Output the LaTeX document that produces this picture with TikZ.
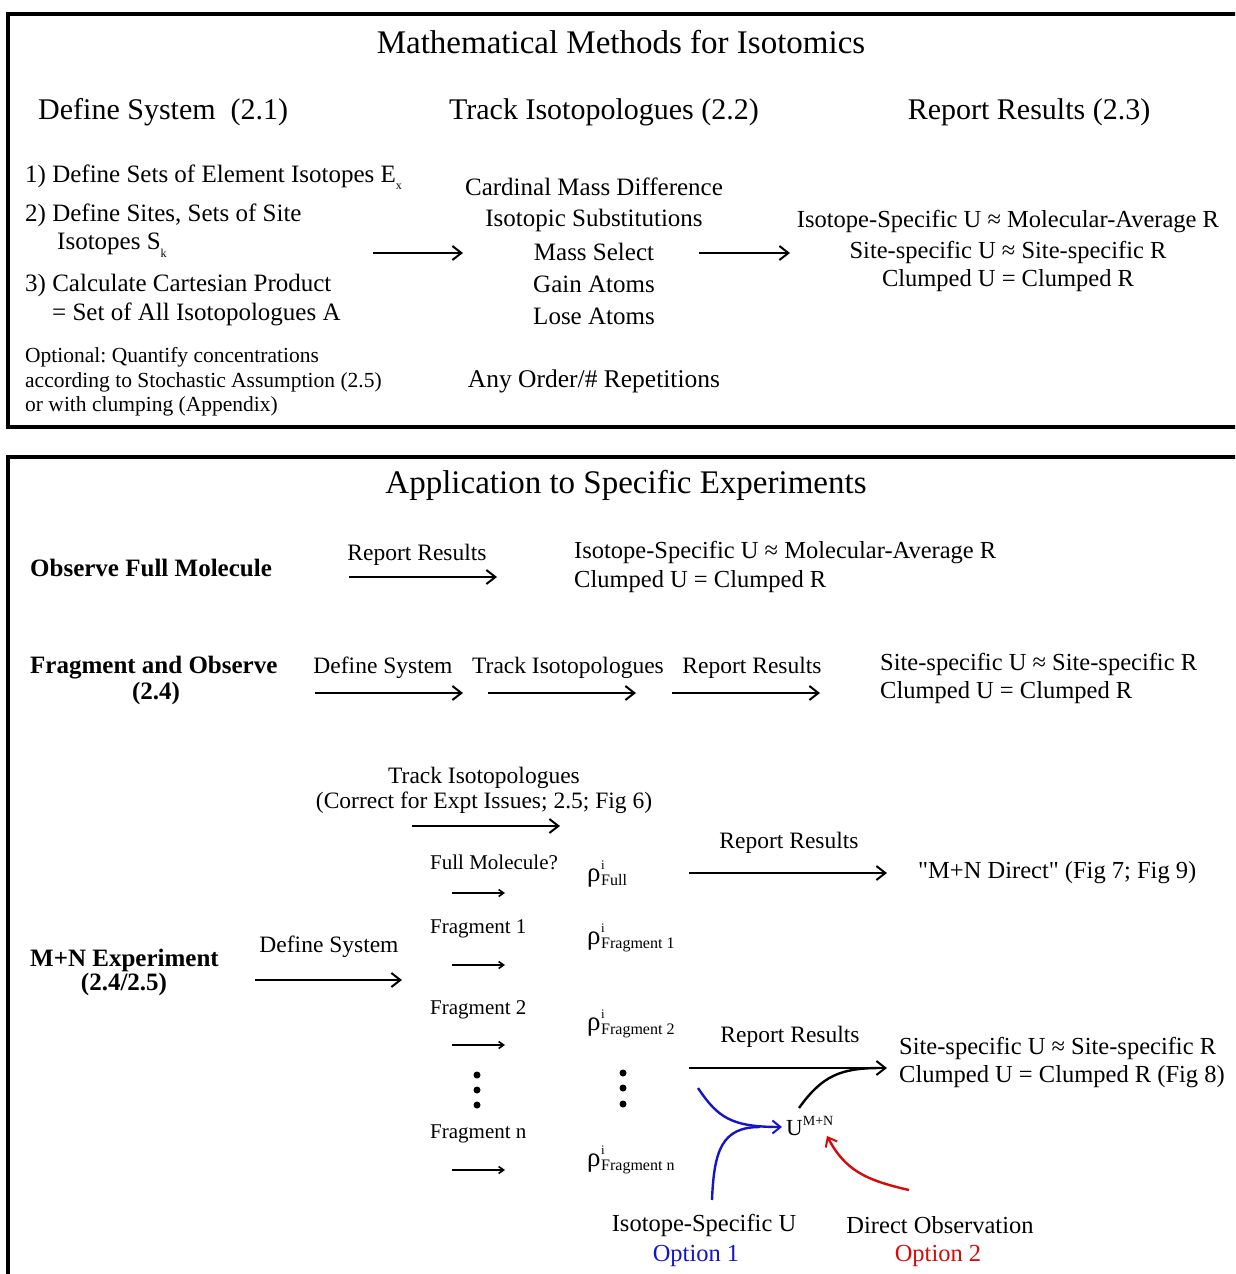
\documentclass[tikz,border=0pt]{standalone}
\usepackage{fontspec}
\setmainfont{Liberation Serif}[Ligatures=TeXOff]
\usetikzlibrary{arrows.meta}
\frenchspacing
\definecolor{optblue}{RGB}{20,20,200}
\definecolor{optred}{RGB}{215,10,10}
\newcommand{\sbs}[1]{\raisebox{-0.3em}{\fontsize{12pt}{12pt}\selectfont #1}}
\newcommand{\rhoof}[1]{ρ\kern0.5pt\makebox[0pt][l]{\raisebox{11.5pt}{\fontsize{13pt}{13pt}\selectfont i}}\raisebox{-4pt}{\fontsize{16pt}{16pt}\selectfont #1}}
\tikzset{
  ttl/.style={font=\fontsize{33pt}{40pt}\selectfont, inner sep=0pt},
  hdr/.style={font=\fontsize{30pt}{36pt}\selectfont, inner sep=0pt},
  lst/.style={font=\fontsize{25pt}{30pt}\selectfont, inner sep=0pt, anchor=west},
  midtxt/.style={font=\fontsize{25pt}{30pt}\selectfont, inner sep=0pt},
  restxt/.style={font=\fontsize{24.5pt}{29pt}\selectfont, inner sep=0pt},
  opttxt/.style={font=\fontsize{21.5pt}{24.5pt}\selectfont, inner sep=0pt, anchor=west, align=left},
  bld/.style={font=\bfseries\fontsize{25pt}{30pt}\selectfont, inner sep=0pt},
  arl/.style={font=\fontsize{23.5pt}{28pt}\selectfont, inner sep=0pt},
  frg/.style={font=\fontsize{21pt}{25pt}\selectfont, inner sep=0pt, anchor=west},
  rho/.style={font=\fontsize{27pt}{30pt}\selectfont, inner sep=0pt, anchor=base west},
  box/.style={line width=3.8pt},
  arr/.style={line width=2pt, -{Straight Barb[length=9pt,width=14pt,line width=2pt]}},
  sarr/.style={line width=2.2pt, -{Straight Barb[length=5pt,width=7pt,line width=1.6pt]}},
  dotm/.style={circle, fill=black, inner sep=0pt, minimum size=7pt},
}
\begin{document}
\begin{tikzpicture}[x=1pt,y=-1pt]
\useasboundingbox (0,0) rectangle (1235,1274);
\fill[white] (0,0) rectangle (1235,1274);
\begin{scope}
\clip (0,0) rectangle (1235,1274);
\draw[box] (8,14) rectangle (1260,427);
\draw[box] (8,457) rectangle (1260,1300);
\end{scope}

% ---------- top box ----------
\node[ttl] (t1) at (621,42) {Mathematical Methods for Isotomics};
\node[hdr, anchor=west] (h1) at (38,112) {Define System\ \ (2.1)};
\node[hdr] (h2) at (604,112) {Track Isotopologues (2.2)};
\node[hdr] (h3) at (1029,112) {Report Results (2.3)};

\node[lst] (l1) at (25,177) {1) Define Sets of Element Isotopes E\sbs{x}};
\node[lst] (l2) at (25,215) {2) Define Sites, Sets of Site};
\node[lst] (l2b) at (57,245) {Isotopes S\sbs{k}};
\node[lst] (l3) at (25,285) {3) Calculate Cartesian Product};
\node[lst] (l3b) at (52,314) {= Set of All Isotopologues A};
\node[opttxt] (o1) at (25,382) {Optional: Quantify concentrations\\according to Stochastic Assumption (2.5)\\or with clumping (Appendix)};

\node[midtxt] (m1) at (594,187) {Cardinal Mass Difference};
\node[midtxt] (m2) at (594,220) {Isotopic Substitutions};
\node[midtxt] (m3) at (594,252) {Mass Select};
\node[midtxt] (m4) at (594,284) {Gain Atoms};
\node[midtxt] (m5) at (594,316) {Lose Atoms};
\node[midtxt, font=\fontsize{25.5pt}{30pt}\selectfont] (m6) at (594,381) {Any Order/\# Repetitions};

\node[restxt] (r1) at (1008,222) {Isotope-Specific U ≈ Molecular-Average R};
\node[restxt] (r2) at (1008,252) {Site-specific U ≈ Site-specific R};
\node[restxt] (r3) at (1008,281) {Clumped U = Clumped R};

\coordinate (a1s) at (373,253);
\coordinate (a1e) at (463,253);
\coordinate (a2s) at (699,253);
\coordinate (a2e) at (790,253);
\draw[arr] (a1s) -- (a1e);
\draw[arr] (a2s) -- (a2e);

% ---------- bottom box ----------
\node[ttl] (t2) at (626,485) {Application to Specific Experiments};

% Observe full molecule
\node[bld, anchor=west] (ofm) at (30,568) {Observe Full Molecule};
\coordinate (b1s) at (349,577);
\coordinate (b1e) at (497,577);
\draw[arr] (b1s) -- (b1e);
\node[arl] (b1l) at (417,555) {Report Results};
\node[restxt, anchor=west] (or1) at (574,553) {Isotope-Specific U ≈ Molecular-Average R};
\node[restxt, anchor=west] (or2) at (574,582) {Clumped U = Clumped R};

% Fragment and observe
\node[bld, anchor=west] (fao) at (30,668) {Fragment and Observe};
\node[bld] (fao2) at (156,693) {(2.4)};
\coordinate (c1s) at (315,693);
\coordinate (c1e) at (463,693);
\coordinate (c2s) at (488,693);
\coordinate (c2e) at (636,693);
\coordinate (c3s) at (672,693);
\coordinate (c3e) at (820,693);
\draw[arr] (c1s) -- (c1e);
\draw[arr] (c2s) -- (c2e);
\draw[arr] (c3s) -- (c3e);
\node[arl] (c1l) at (383,668) {Define System};
\node[arl] (c2l) at (568,668) {Track Isotopologues};
\node[arl] (c3l) at (752,668) {Report Results};
\node[restxt, anchor=west] (fr1) at (880,664) {Site-specific U ≈ Site-specific R};
\node[restxt, anchor=west] (fr2) at (880,693) {Clumped U = Clumped R};

% M+N experiment
\node[bld, anchor=west] (mn) at (30,960) {M+N Experiment};
\node[bld] (mn2) at (124,984) {(2.4/2.5)};
\coordinate (d1s) at (255,980);
\coordinate (d1e) at (402,980);
\draw[arr] (d1s) -- (d1e);
\node[arl] (d1l) at (329,947) {Define System};

\node[arl] (tl1) at (484,778) {Track Isotopologues};
\node[arl] (tl2) at (484,803) {(Correct for Expt Issues; 2.5; Fig 6)};
\coordinate (e1s) at (412,826);
\coordinate (e1e) at (560,826);
\draw[arr] (e1s) -- (e1e);

\node[frg] (f0) at (430,862) {Full Molecule?};
\node[frg] (f1) at (430,929) {Fragment 1};
\node[frg] (f2) at (430,1010) {Fragment 2};
\node[frg] (fn) at (430,1134) {Fragment n};
\coordinate (g0s) at (452,893); \coordinate (g0e) at (505,893);
\coordinate (g1s) at (452,965); \coordinate (g1e) at (505,965);
\coordinate (g2s) at (452,1045); \coordinate (g2e) at (505,1045);
\coordinate (gns) at (452,1170); \coordinate (gne) at (505,1170);
\draw[sarr] (g0s) -- (g0e);
\draw[sarr] (g1s) -- (g1e);
\draw[sarr] (g2s) -- (g2e);
\draw[sarr] (gns) -- (gne);
\node[dotm] (dA1) at (477,1075) {};
\node[dotm] (dA2) at (477,1090) {};
\node[dotm] (dA3) at (477,1105) {};

\node[rho] (p0) at (587,881) {\rhoof{Full}};
\node[rho] (p1) at (587,944) {\rhoof{Fragment 1}};
\node[rho] (p2) at (587,1030) {\rhoof{Fragment 2}};
\node[rho] (pn) at (587,1166) {\rhoof{Fragment n}};
\node[dotm] (dB1) at (623,1073) {};
\node[dotm] (dB2) at (623,1088) {};
\node[dotm] (dB3) at (623,1104) {};

\coordinate (h1s) at (689,873);
\coordinate (h1e) at (887,873);
\draw[arr] (h1s) -- (h1e);
\node[arl] (h1l) at (789,843) {Report Results};
\node[restxt, anchor=west] (dir) at (918,873) {"M+N Direct" (Fig 7; Fig 9)};

\coordinate (k1s) at (689,1068);
\coordinate (k1e) at (887,1068);
\draw[arr, line width=2.6pt] (k1s) -- (k1e);
\node[arl] (k1l) at (790,1037) {Report Results};
\node[restxt, anchor=west] (ss1) at (899,1048) {Site-specific U ≈ Site-specific R};
\node[restxt, anchor=west] (ss2) at (899,1077) {Clumped U = Clumped R (Fig 8)};

\node[font=\fontsize{23pt}{28pt}\selectfont, inner sep=0pt, anchor=west] (umn) at (786,1126) {U\raisebox{0.42em}{\fontsize{14pt}{14pt}\selectfont M+N}};

\coordinate (bk) at (799,1108);
\draw[line width=2.4pt] (bk) .. controls (822,1076) and (840,1068) .. (880,1068);

\coordinate (bu) at (698,1088);
\coordinate (bl) at (712,1200);
\coordinate (bt) at (782,1127);
\draw[optblue, line width=2.4pt, -{Straight Barb[length=8pt,width=13pt,line width=2pt]}] (bu) .. controls (718,1118) and (732,1127) .. (bt);
\draw[optblue, line width=2.4pt] (bl) .. controls (714,1150) and (722,1127) .. (760,1127);

\coordinate (rs) at (909,1190);
\coordinate (rt) at (827,1136);
\draw[optred, line width=2.4pt, -{Straight Barb[length=8pt,width=13pt,line width=2pt]}] (rs) .. controls (865,1180) and (845,1170) .. (rt);

\node[restxt] (iu) at (704,1225) {Isotope-Specific U};
\node[restxt, text=optblue] (op1) at (696,1256) {Option 1};
\node[restxt] (do) at (940,1225) {Direct Observation};
\node[restxt, text=optred] (op2) at (938,1256) {Option 2};
\end{tikzpicture}
\end{document}
